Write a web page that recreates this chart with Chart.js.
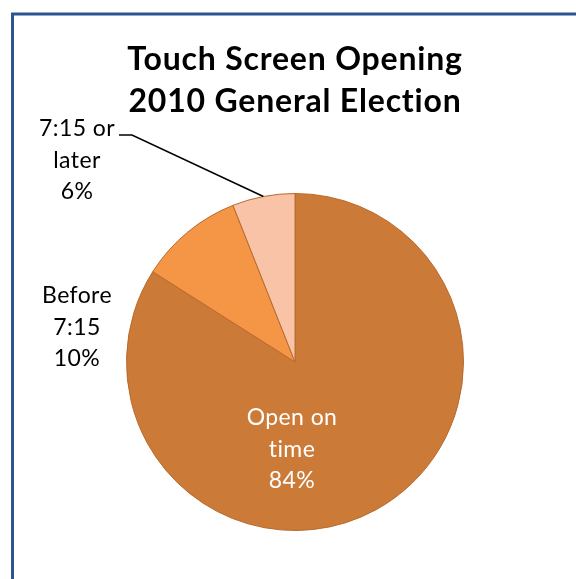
<!DOCTYPE html>
<html>
<head>
<meta charset="utf-8">
<script src="https://cdn.jsdelivr.net/npm/chart.js@4.4.1/dist/chart.umd.min.js"></script>
<style>
  html, body { margin: 0; padding: 0; background: #fff; }
  #wrap { width: 576px; height: 579px; position: relative; }
</style>
</head>
<body>
<div id="wrap"><canvas id="pieChart" width="576" height="579"></canvas></div>
<script>
// opening times of touch screens, share of polling places
const categories = ['Open on time', 'Before 7:15', '7:15 or later'];
const labelLines = [['Open on', 'time'], ['Before', '7:15'], ['7:15 or', 'later']];
const shares = [84, 10, 6];
const sliceColors = ['#CB7A38', '#F59646', '#F9C3A8'];
const titleLines = ['Touch Screen Opening', '2010 General Election'];

const FONT = 'Lato, "Open Sans", sans-serif';

// frame, title and the slice labels
const decorations = {
    id: 'decorations',
    beforeDraw(chart) {
        const ctx = chart.ctx;
        ctx.save();
        ctx.fillStyle = '#fff';
        ctx.fillRect(0, 0, chart.width, chart.height);
        ctx.strokeStyle = '#2B5592';
        ctx.lineWidth = 3;
        ctx.strokeRect(12.5, 14, 800, 800);
        ctx.restore();
    },
    afterDraw(chart) {
        const ctx = chart.ctx;
        const arcs = chart.getDatasetMeta(0).data;
        ctx.save();
        ctx.textAlign = 'center';
        ctx.textBaseline = 'middle';

        ctx.fillStyle = '#000';
        ctx.font = 'bold 32px ' + FONT;
        ctx.letterSpacing = '0.8px';
        ctx.fillText(titleLines[0], 295, 60);
        ctx.fillText(titleLines[1], 295, 102);

        const drawLabel = (i, x, y, color) => {
            const lines = labelLines[i].concat([shares[i] + '%']);
            ctx.fillStyle = color;
            ctx.font = '23px ' + FONT;
            ctx.letterSpacing = '0.4px';
            lines.forEach((t, k) => ctx.fillText(t, x, y + k * 31.5));
        };
        drawLabel(0, 292, 418, '#fff');
        drawLabel(1, 77, 296, '#000');
        drawLabel(2, 77, 129, '#000');

        // leader line to the middle of the small slice
        const a = arcs[2];
        const mid = (a.startAngle + a.endAngle) / 2;
        const ex = a.x + a.outerRadius * Math.cos(mid);
        const ey = a.y + a.outerRadius * Math.sin(mid);
        ctx.strokeStyle = '#000';
        ctx.lineWidth = 1.5;
        ctx.beginPath();
        ctx.moveTo(119, 135);
        ctx.lineTo(132, 135);
        ctx.lineTo(ex, ey);
        ctx.stroke();
        ctx.restore();
    }
};

new Chart(document.getElementById('pieChart').getContext('2d'), {
    type: 'pie',
    data: {
        labels: categories,
        datasets: [{
            data: shares,
            backgroundColor: sliceColors,
            borderColor: '#B96A2C',
            borderWidth: 1
        }]
    },
    options: {
        responsive: false,
        animation: false,
        layout: { padding: { left: 126, right: 112, top: 193, bottom: 48 } },
        plugins: {
            legend: { display: false },
            tooltip: { enabled: false },
            title: { display: false }
        }
    },
    plugins: [decorations]
});
</script>
</body>
</html>
